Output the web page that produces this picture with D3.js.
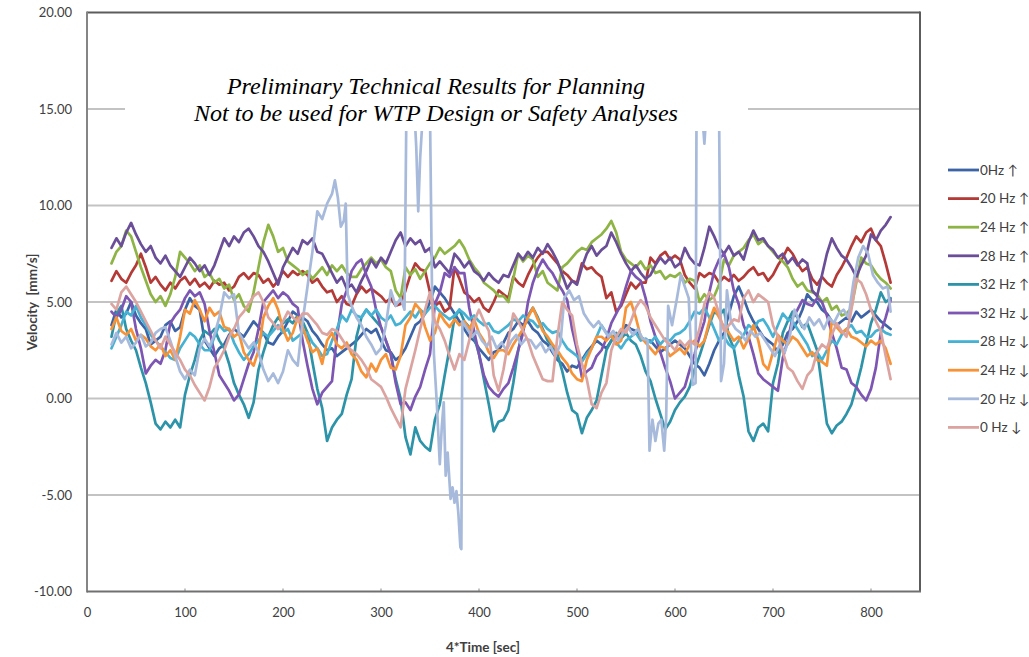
<!DOCTYPE html>
<html>
<head>
<meta charset="utf-8">
<script src="https://cdn.jsdelivr.net/npm/d3@7/dist/d3.min.js"></script>
<style>
  body { margin: 0; background: #ffffff; }
  svg { display: block; }
</style>
</head>
<body>
<svg id="chart" width="1029" height="657"></svg>
<script>
// Sample times (4*Time, seconds) shared by most traces
const timeSec = [
  25,30,35,40,45,50,55,60,65,70, 75,80,85,90,95,100,105,110,115,120,
  125,130,135,140,145,150,155,160,165,170, 175,180,185,190,195,200,205,210,215,220,
  225,230,235,240,245,250,255,260,265,270, 275,280,285,290,295,300,305,310,315,320,
  325,330,335,340,345,350,355,360,365,370, 375,380,385,390,395,400,405,410,415,420,
  425,430,435,440,445,450,455,460,465,470, 475,480,485,490,495,500,505,510,515,520,
  525,530,535,540,545,550,555,560,565,570, 575,580,585,590,595,600,605,610,615,620,
  625,630,635,640,645,650,655,660,665,670, 675,680,685,690,695,700,705,710,715,720,
  725,730,735,740,745,750,755,760,765,770, 775,780,785,790,795,800,805,810,815,820
];

// Velocity traces [mm/s]
const hz0Up = [
  3.8,4.6,4.2,4.4,5.0,4.3,3.9,3.6,2.8,3.0, 3.2,3.8,4.0,3.5,3.7,4.6,5.2,4.8,4.6,3.0,
  2.6,2.2,2.6,2.8,3.3,3.6,3.4,3.2,3.6,4.0, 3.7,3.4,2.9,2.8,3.2,3.5,4.0,4.5,4.3,4.2,
  4.0,3.5,3.2,2.8,2.5,2.6,2.2,2.4,2.6,2.8, 3.0,3.3,3.6,3.4,3.6,3.0,2.5,2.4,2.0,2.2,
  2.6,3.2,3.8,4.0,4.4,5.0,5.8,5.5,5.2,4.8, 4.4,4.0,3.6,3.2,3.0,2.6,2.3,2.0,2.4,2.5,
  2.9,3.4,3.6,4.0,3.8,4.0,3.6,3.4,3.0,2.8, 2.4,2.0,1.8,1.4,1.7,1.6,2.0,2.4,2.7,3.0,
  2.8,2.6,3.0,3.2,3.4,3.8,3.6,3.5,3.2,3.0, 3.0,2.7,2.4,2.6,2.8,3.0,2.8,2.6,2.2,1.8,
  1.6,1.2,1.8,2.5,3.0,3.4,4.4,5.3,5.8,5.2, 4.5,4.0,3.6,3.2,3.0,2.8,2.4,2.8,3.4,3.6,
  4.0,4.6,5.4,5.1,5.0,4.6,4.4,4.0,3.8,4.0, 4.2,4.0,4.5,4.2,4.4,4.6,4.3,4.0,3.8,3.6
];
const hz20Up = [
  6.1,6.6,6.2,6.0,6.5,6.9,7.5,6.8,6.0,6.3, 5.9,5.6,6.0,5.7,6.1,6.3,5.9,6.2,5.8,6.0,
  5.7,6.1,5.9,6.0,5.6,5.8,6.3,6.5,6.2,6.5, 6.4,6.0,6.2,5.8,6.1,6.6,6.3,6.6,6.4,6.6,
  6.4,6.0,6.2,5.8,5.5,5.6,5.0,5.3,4.9,4.8, 5.4,5.8,5.5,5.7,5.5,5.3,5.0,5.2,4.8,4.9,
  5.6,6.4,7.0,6.7,6.6,5.5,4.8,5.0,4.5,4.7, 6.8,6.2,5.5,5.3,5.0,5.2,4.7,4.5,5.0,5.6,
  5.4,5.2,6.3,6.0,5.8,6.4,6.9,7.3,7.6,7.6, 7.3,7.0,6.6,6.4,6.1,6.0,7.0,6.7,6.8,6.5,
  6.3,5.2,5.5,4.5,4.8,5.4,6.0,5.7,6.0,6.0, 7.3,7.0,7.4,7.6,7.2,7.4,7.2,6.4,6.0,5.7,
  6.5,6.3,6.5,6.4,6.0,6.3,6.1,6.4,6.1,6.3, 6.6,6.8,6.4,6.5,6.1,6.4,6.9,7.3,7.8,7.5,
  7.0,6.6,6.8,6.2,5.9,6.3,6.0,5.8,6.4,6.8, 7.3,7.9,8.4,8.1,8.6,8.8,8.2,7.9,7.0,6.0
];
const hz24Up = [
  7.0,7.6,7.9,8.7,8.4,7.6,6.8,6.1,5.4,5.0, 5.3,4.8,5.4,6.3,7.6,7.3,7.0,6.6,6.9,6.3,
  6.5,6.0,6.2,5.7,5.9,5.1,5.4,4.8,4.5,5.5, 6.8,8.1,9.0,8.4,7.6,7.8,7.1,6.9,6.7,6.4,
  6.6,6.2,6.5,6.8,6.4,6.9,6.6,6.9,6.5,6.3, 6.3,6.7,7.0,7.3,7.0,7.2,6.8,6.6,5.6,5.2,
  6.8,6.4,6.7,6.2,6.6,7.0,7.3,7.8,7.5,7.7, 7.9,8.2,7.8,7.2,6.8,6.5,6.0,5.8,5.6,5.3,
  5.3,5.0,6.2,7.5,7.1,7.4,7.2,6.3,6.6,6.0, 5.8,5.6,6.8,7.0,7.3,7.6,7.8,7.7,8.1,8.3,
  8.5,8.8,9.2,8.6,7.6,7.2,7.0,6.8,7.1,6.7, 6.9,6.5,6.6,6.2,6.4,6.3,6.5,6.0,6.2,6.1,
  5.0,5.4,5.1,5.3,5.9,7.2,6.9,7.4,7.6,7.8, 8.2,8.5,8.0,8.2,7.9,7.6,7.3,7.1,6.8,6.2,
  5.8,6.0,5.6,5.5,5.4,5.0,5.2,4.6,4.8,4.3, 4.4,4.7,6.0,7.3,7.0,6.9,6.5,6.2,6.0,5.7
];
const hz28Up = [
  7.8,8.3,7.9,8.6,9.1,8.5,8.0,7.6,7.9,7.3, 7.0,7.4,6.9,6.6,6.3,6.8,7.3,7.0,6.6,6.9,
  6.4,6.9,7.6,8.3,7.9,8.4,8.1,8.6,8.8,8.4, 7.9,7.6,7.1,6.5,5.9,6.8,7.3,7.8,7.5,8.2,
  8.0,8.3,7.6,7.5,7.0,6.5,6.0,6.3,5.7,5.9, 5.5,6.1,6.6,7.2,6.8,7.3,7.0,7.6,8.2,8.6,
  7.9,8.3,8.0,8.2,7.6,7.8,6.8,7.1,6.8,6.5, 7.5,7.2,6.8,7.1,6.6,6.4,6.1,6.5,6.2,6.0,
  6.4,6.3,6.9,7.5,7.2,7.6,7.3,7.8,7.5,8.0, 7.6,7.1,6.4,5.7,6.1,5.9,6.8,7.5,7.9,7.4,
  7.7,7.9,8.6,8.1,7.5,7.0,6.6,6.9,6.5,6.2, 6.4,6.9,7.3,7.0,7.3,6.8,7.0,7.8,7.3,7.0,
  6.9,7.8,8.9,8.4,7.8,7.5,7.9,7.4,7.6,7.2, 8.1,8.7,8.2,8.3,7.9,7.7,7.3,7.5,7.0,7.3,
  6.9,7.2,7.0,5.6,5.3,6.4,7.5,8.3,7.8,7.4, 7.2,6.8,6.3,6.9,7.4,8.5,8.2,8.7,9.0,9.4
];
const hz32Up = [
  3.2,4.4,4.8,3.6,3.0,2.5,1.6,0.8,-0.2,-1.3, -1.6,-1.2,-1.5,-1.1,-1.5,0.2,1.2,2.0,3.0,3.5,
  3.3,3.6,3.0,2.6,1.8,0.8,0.2,-0.3,-1.0,-0.2, 1.5,2.4,3.2,3.8,4.2,3.9,4.1,3.9,4.3,4.0,
  3.4,1.9,0.5,-0.5,-2.2,-1.5,-1.1,-0.8,0.2,1.0, 3.2,4.2,4.6,4.3,4.0,3.7,3.0,2.3,1.0,0.0,
  -2.0,-2.9,-1.5,-2.2,-2.5,-2.7,-1.1,-0.3,1.2,2.6, 4.2,4.6,4.0,3.7,3.2,2.3,1.0,-0.3,-1.7,-1.2,
  -1.1,-0.6,0.8,2.5,3.6,4.3,4.7,4.2,3.6,3.0, 2.7,2.3,1.4,0.3,-0.6,-0.8,-1.8,-1.0,-0.6,-0.1,
  1.2,2.5,3.0,3.4,3.1,3.4,3.0,2.8,2.2,1.4, 0.9,0.0,-0.8,-1.6,-1.2,-0.6,-0.2,0.1,0.6,1.5,
  2.2,3.0,3.8,4.5,4.3,4.6,3.2,2.6,1.2,0.1, -1.7,-2.2,-1.5,-1.3,-1.7,0.8,1.8,3.4,4.0,4.5,
  4.2,3.7,3.9,3.2,2.5,0.6,-1.3,-1.8,-1.4,-1.2, -0.8,-0.3,0.6,1.6,2.8,3.9,4.6,5.5,5.0,5.2
];
const hz32Down = [
  4.5,4.2,4.6,5.3,5.0,3.6,2.6,1.3,1.7,2.0, 1.8,2.5,3.9,4.3,4.6,5.2,5.6,5.3,5.5,4.9,
  3.5,2.4,1.2,0.8,0.4,-0.1,0.2,1.0,1.8,2.4, 3.6,5.0,5.3,5.6,5.2,5.5,5.3,4.9,4.7,3.0,
  1.7,0.5,-0.3,0.3,0.6,0.9,3.2,4.9,5.6,6.6, 7.0,7.2,6.4,5.8,4.6,3.7,3.0,2.3,0.8,-0.3,
  -0.2,-0.6,0.1,0.6,1.5,2.3,4.9,5.5,6.5,6.3, 6.8,6.5,6.5,4.7,3.5,2.3,1.2,0.6,0.3,0.1,
  0.5,0.8,1.6,2.5,3.4,5.0,6.0,6.7,7.2,6.8, 6.5,6.0,5.6,5.1,3.6,2.5,1.1,1.4,1.6,2.2,
  2.5,3.1,3.9,4.4,4.9,5.8,6.6,6.3,6.1,5.2, 4.0,3.2,2.4,1.6,0.9,0.0,0.3,0.6,1.5,2.3,
  3.2,4.0,5.5,6.6,7.2,7.5,6.8,5.6,4.9,3.8, 3.2,2.3,1.3,1.0,0.8,0.6,0.4,2.1,3.0,4.2,
  4.6,5.1,4.9,4.8,5.2,5.0,4.3,3.4,2.6,1.6, 1.5,0.8,0.6,0.2,-0.1,0.5,1.6,3.4,4.2,5.1
];
const hz28Down = [
  2.6,3.2,3.8,4.5,4.3,4.8,4.2,3.8,3.3,3.0, 2.7,2.4,2.1,2.0,2.6,3.0,3.4,3.2,2.8,2.5,
  2.5,3.2,3.8,3.5,3.6,2.9,2.4,2.0,2.3,2.7, 3.0,3.4,3.2,3.5,3.8,3.4,3.6,3.0,3.2,3.4,
  3.4,2.9,2.6,2.2,2.3,3.0,3.6,4.3,4.0,4.6, 4.3,4.2,4.6,4.3,4.6,4.2,4.0,4.3,3.8,3.9,
  4.2,4.5,4.2,4.6,4.4,4.7,4.8,4.5,4.3,4.1, 4.3,4.6,4.4,4.1,4.3,4.0,3.8,3.9,3.5,3.4,
  3.6,3.8,4.1,4.0,4.3,4.1,4.0,3.7,3.9,3.6, 3.4,3.5,3.0,2.6,2.4,2.2,1.9,2.3,2.6,3.2,
  3.8,3.4,3.2,2.9,2.6,3.0,3.2,3.4,3.0,3.1, 2.9,3.2,2.8,3.1,3.0,3.3,3.4,3.6,4.0,4.5,
  4.4,4.7,4.2,3.6,3.0,3.2,2.8,2.6,3.0,3.3, 3.8,3.6,4.0,4.1,3.7,3.2,3.8,4.4,4.1,4.0,
  3.6,3.2,2.8,2.2,2.4,2.0,2.5,3.0,2.8,3.3, 3.6,3.8,3.4,3.5,3.2,3.2,3.5,3.6,3.4,3.3
];
const hz24Down = [
  3.6,4.2,3.5,3.3,3.6,3.0,3.3,3.1,2.7,2.5, 2.8,2.2,2.5,2.0,3.2,4.6,4.4,5.1,4.6,4.0,
  4.7,4.3,4.5,3.7,3.6,3.2,3.4,2.4,2.0,1.7, 2.5,4.2,4.8,5.2,4.6,3.6,3.0,3.4,4.2,3.7,
  3.0,2.4,2.6,1.8,3.0,3.4,2.8,2.6,2.9,2.3, 2.0,1.4,1.1,1.8,1.4,2.0,2.3,1.6,1.5,2.2,
  3.8,4.2,4.9,4.6,3.7,3.0,3.4,4.4,4.0,3.7, 4.1,3.8,4.0,3.6,4.1,3.4,3.0,2.4,2.1,2.5,
  2.5,2.3,2.8,3.2,3.6,4.2,4.7,4.1,3.5,3.2, 2.8,2.5,2.1,1.8,1.3,1.0,0.9,2.0,2.6,3.2,
  3.2,3.0,3.3,2.8,3.0,4.7,5.0,4.2,3.2,2.9, 2.6,2.3,2.7,2.6,2.2,2.4,2.6,2.3,2.8,3.0,
  2.7,3.0,4.0,4.7,4.2,3.7,3.4,3.0,3.2,2.6, 3.1,3.8,3.0,1.8,1.5,2.4,3.3,3.0,2.8,3.2,
  3.0,2.6,2.2,2.4,2.0,1.9,1.7,4.0,3.7,3.4, 3.6,3.2,3.1,2.9,2.7,3.0,2.8,3.0,2.6,1.8
];
// 20 Hz down is logged on its own, denser time base around the surges
const hz20DownTime = [
  25,30,35,40,45,50,55,60,65,70, 75,80,85,90,95,100,105,110,115,120,
  125,130,135,140,145,150,155,160,165,170, 175,180,185,190,195,200,205,210,215,220,
  225,230,235,240,245,250,253,256,259,262, 264,266,270,275,280,285,290,295,300,305,
  310,315,320,324,326,330,333,336,338,340, 343,347,350,352,354,357,360,362,364,366,
  368,371,373,375,377,379,381,382,383,388, 393,398,403,408,413,418,423,428,433,438,
  443,448,453,458,463,468,473,478,483,487, 492,497,502,507,512,517,522,527,532,537,
  542,547,552,557,562,567,572,574,577,580, 583,586,589,591,593,597,602,606,610,614,
  618,621,622,626,630,634,638,642,645,647, 650,653,657,662,667,672,677,682,687,692,
  697,702,707,712,717,722,727,732,737,742, 747,752,757,762,767,772,777,782,787,792,
  797,802,807,812,817,820
];
const hz20Down = [
  2.8,3.4,2.9,3.2,2.6,2.9,3.3,2.7,2.9,3.4, 3.6,3.7,3.0,2.2,1.4,1.0,1.5,1.2,2.6,3.1,
  2.7,3.3,4.2,5.5,5.2,5.4,3.4,3.0,2.6,2.9, 2.4,1.5,0.9,1.3,0.8,1.4,2.5,2.0,1.7,4.0,
  5.8,7.6,9.7,9.3,10.1,10.6,11.3,10.4,8.9,9.2, 10.1,5.4,4.8,4.2,3.8,3.2,2.8,2.3,2.6,3.8,
  5.6,4.8,5.2,4.6,15.5,17.0,16.0,13.0,9.7,12.5, 15.0,16.5,14.8,5.8,2.3,-0.3,-3.4,-1.5,-0.2,-4.0,
  -2.8,-5.2,-4.6,-5.4,-4.8,-6.0,-7.7,-7.8,4.0,3.6, 3.2,3.5,3.0,2.7,3.2,2.6,2.9,2.5,3.0,3.3,
  2.8,3.1,3.0,2.6,2.9,2.4,2.7,2.2,2.8,5.2, 5.6,5.1,5.3,4.4,4.0,3.7,4.0,3.6,3.2,3.5,
  3.0,3.4,3.7,3.3,3.6,3.1,3.0,-2.7,-1.1,-2.2, -1.3,-1.1,-2.7,-1.0,4.8,3.8,5.2,6.4,5.8,5.2,
  0.7,0.8,15.5,16.0,13.2,16.5,15.0,16.2,14.8,0.9, 1.8,5.6,4.0,3.6,3.4,3.0,3.5,3.2,3.4,3.0,
  2.6,2.2,2.8,2.4,3.2,4.6,4.0,3.6,4.2,3.8, 4.1,3.6,4.2,3.9,4.4,4.6,4.2,6.0,7.3,7.9,
  7.5,6.4,6.0,5.7,5.8,4.5
];
const hz0Down = [
  4.9,4.6,5.5,5.8,5.4,5.0,4.5,4.0,3.5,3.0, 2.6,3.2,2.8,2.4,2.0,1.5,1.2,0.7,0.3,-0.1,
  0.6,1.6,2.0,2.5,3.2,3.6,4.2,4.5,4.9,5.3, 5.5,5.0,4.2,3.9,3.6,4.0,4.5,4.2,4.0,4.4,
  4.4,4.1,3.8,3.4,3.3,3.6,3.5,3.1,2.7,2.5, 2.3,2.0,1.6,1.0,0.8,0.6,0.1,-0.5,-1.0,-1.5,
  0.5,1.5,2.5,3.6,4.6,5.5,4.0,3.6,3.0,2.2, 1.5,2.3,2.0,3.0,4.0,4.6,4.0,3.5,1.2,0.4,
  1.5,3.0,4.4,4.0,3.5,3.0,2.2,1.6,1.0,0.9, 0.9,3.2,5.0,4.6,4.3,2.8,1.8,1.0,-0.3,-0.5,
  0.3,0.8,2.5,3.2,3.6,3.4,4.0,4.7,5.1,4.8, 4.2,3.8,3.4,3.0,2.8,2.5,3.0,2.7,3.0,2.8,
  3.6,4.9,5.5,5.2,4.4,3.5,3.8,4.1,4.0,5.2, 5.6,5.0,5.4,5.2,5.0,3.8,3.2,2.4,1.6,1.4,
  0.9,0.5,1.2,1.5,2.4,2.8,2.6,3.3,3.9,3.5, 3.2,4.6,6.2,6.0,5.4,4.6,4.0,3.5,2.2,1.0
];

const seriesNames = ["0Hz \u2191", "20 Hz \u2191", "24 Hz \u2191", "28 Hz \u2191", "32 Hz \u2191",
                     "32 Hz \u2193", "28 Hz \u2193", "24 Hz \u2193", "20 Hz \u2193", "0 Hz \u2193"];
const seriesColors = ["#3c63a6", "#b43a37", "#8db444", "#6a4e98", "#2d93a8",
                      "#7d55b2", "#45b1d3", "#f79237", "#a7badb", "#dca4a1"];
const yTickValues = [-10, -5, 0, 5, 10, 15, 20];
const xTickValues = [0, 100, 200, 300, 400, 500, 600, 700, 800];
const noteLines = ["Preliminary Technical Results for Planning",
                   "Not to be used for WTP Design or Safety Analyses"];

const traces = [
  { t: timeSec, v: hz0Up }, { t: timeSec, v: hz20Up }, { t: timeSec, v: hz24Up },
  { t: timeSec, v: hz28Up }, { t: timeSec, v: hz32Up }, { t: timeSec, v: hz32Down },
  { t: timeSec, v: hz28Down }, { t: timeSec, v: hz24Down },
  { t: hz20DownTime, v: hz20Down }, { t: timeSec, v: hz0Down }
].map((s, i) => ({
  name: seriesNames[i],
  color: seriesColors[i],
  points: s.t.map((t, k) => ({ t, v: s.v[k] }))
}));

// ---- layout ----
const svg = d3.select("#chart");
const plot = { left: 87, right: 920, top: 12.5, bottom: 591.5 };
const x = d3.scaleLinear().domain([0, 850]).range([plot.left, plot.right]);
const y = d3.scaleLinear().domain([-10, 20]).range([plot.bottom, plot.top]);
const labelFont = "Lato, 'Open Sans', 'Liberation Sans', sans-serif";
const fmt2 = d3.formatLocale({ decimal: ".", thousands: ",", grouping: [3], currency: ["", ""], minus: "-" }).format(".2f");

svg.append("rect").attr("width", 1029).attr("height", 657).attr("fill", "#ffffff");

svg.append("defs").append("clipPath").attr("id", "plot-clip")
  .append("rect")
  .attr("x", plot.left).attr("y", plot.top)
  .attr("width", plot.right - plot.left).attr("height", plot.bottom - plot.top);

// horizontal gridlines
svg.append("g")
  .selectAll("line")
  .data(yTickValues.filter(d => d > -10 && d < 20))
  .join("line")
  .attr("x1", plot.left).attr("x2", plot.right)
  .attr("y1", d => y(d)).attr("y2", d => y(d))
  .attr("stroke", "#c3c3c3").attr("stroke-width", 2);

// traces
const line = d3.line().x(d => x(d.t)).y(d => y(d.v));
svg.append("g").attr("clip-path", "url(#plot-clip)")
  .selectAll("path")
  .data(traces)
  .join("path")
  .attr("d", d => line(d.points))
  .attr("fill", "none")
  .attr("stroke", d => d.color)
  .attr("stroke-width", 2.7)
  .attr("stroke-linejoin", "round")
  .attr("stroke-linecap", "round");

// small inward tick marks on the time axis
svg.append("g")
  .selectAll("line")
  .data(xTickValues.filter(d => d > 0))
  .join("line")
  .attr("x1", d => x(d)).attr("x2", d => x(d))
  .attr("y1", plot.bottom).attr("y2", plot.bottom - 3)
  .attr("stroke", "#b0b0b0").attr("stroke-width", 1.5);

// plot frame
const frame = svg.append("g").attr("fill", "none").attr("stroke-width", 2);
frame.append("line").attr("x1", plot.left).attr("x2", plot.right)
  .attr("y1", plot.top).attr("y2", plot.top).attr("stroke", "#5c5c5c");
frame.append("line").attr("x1", plot.right).attr("x2", plot.right)
  .attr("y1", plot.top - 1).attr("y2", plot.bottom).attr("stroke", "#5c5c5c");
frame.append("line").attr("x1", plot.left).attr("x2", plot.left)
  .attr("y1", plot.top - 1).attr("y2", plot.bottom + 1).attr("stroke", "#858585");
frame.append("line").attr("x1", plot.left).attr("x2", plot.right + 1)
  .attr("y1", plot.bottom).attr("y2", plot.bottom).attr("stroke", "#707070");

// axes labels via d3 axes
const yAxis = svg.append("g")
  .attr("transform", `translate(${plot.left},0)`)
  .call(d3.axisLeft(y).tickValues(yTickValues).tickFormat(fmt2).tickSize(0).tickPadding(15));
const xAxis = svg.append("g")
  .attr("transform", `translate(0,${plot.bottom})`)
  .call(d3.axisBottom(x).tickValues(xTickValues).tickFormat(d3.format("d")).tickSize(0).tickPadding(16));
[yAxis, xAxis].forEach(a => {
  a.select(".domain").remove();
  a.selectAll("text").attr("fill", "#404040").style("font-family", labelFont).style("font-size", "13px");
});

// axis titles
svg.append("text")
  .attr("transform", `translate(37,302) rotate(-90)`)
  .attr("text-anchor", "middle")
  .style("white-space", "pre")
  .style("font-family", labelFont).style("font-size", "13.5px").style("font-weight", "bold")
  .attr("fill", "#404040")
  .text("Velocity  [mm/s]");
svg.append("text")
  .attr("x", 483).attr("y", 652)
  .attr("text-anchor", "middle")
  .style("font-family", labelFont).style("font-size", "13.5px").style("font-weight", "bold")
  .attr("fill", "#404040")
  .text("4*Time [sec]");

// disclaimer note, on an opaque box over the plot
svg.append("rect")
  .attr("x", 125).attr("y", 58).attr("width", 623).attr("height", 73)
  .attr("fill", "#ffffff");
const note = svg.append("g")
  .style("font-family", "'Liberation Serif', 'Times New Roman', serif")
  .style("font-style", "italic")
  .attr("fill", "#000000")
  .attr("text-anchor", "middle");
const noteText = note.selectAll("text")
  .data(noteLines)
  .join("text")
  .attr("x", 436)
  .attr("y", (d, i) => 94 + i * 27)
  .style("font-size", "20px")
  .text(d => d);
const widest = noteText.nodes()[1].getComputedTextLength();
noteText.style("font-size", (20 * 484 / widest).toFixed(2) + "px");

// legend
const legend = svg.append("g").attr("transform", "translate(948,170)");
const item = legend.selectAll("g")
  .data(traces)
  .join("g")
  .attr("transform", (d, i) => `translate(0,${i * 28.6})`);
item.append("line")
  .attr("x1", 0).attr("x2", 31)
  .attr("stroke", d => d.color).attr("stroke-width", 2.8);
item.append("text")
  .attr("x", 32).attr("dy", "0.35em")
  .style("font-family", labelFont).style("font-size", "13.5px")
  .attr("fill", "#404040")
  .text(d => d.name);
</script>
</body>
</html>
